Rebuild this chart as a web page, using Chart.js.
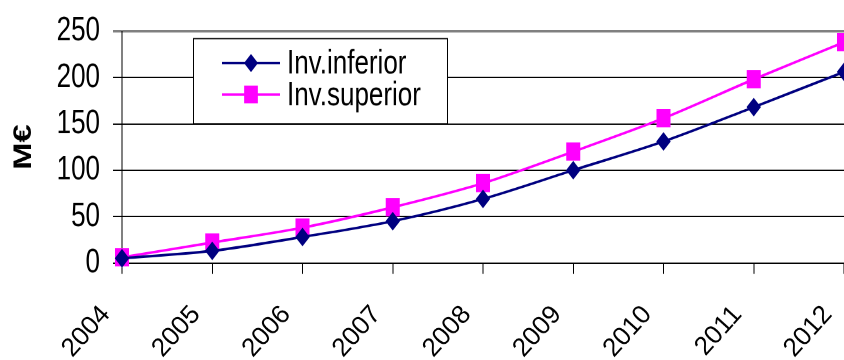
<!DOCTYPE html>
<html>
<head>
<meta charset="utf-8">
<script src="https://cdn.jsdelivr.net/npm/chart.js@4/dist/chart.umd.min.js"></script>
<style>
  html { margin: 0; padding: 0; background: #fff; overflow: hidden; }
  body { margin: 0; padding: 0; background: #fff; width: 844px; height: 360px; }
  /* the chart is drawn on a shorter canvas and stretched vertically */
  #wrap { width: 844px; height: 277px; transform: scaleY(1.2996); transform-origin: 0 0; }
</style>
</head>
<body>
<div id="wrap"><canvas id="c"></canvas></div>
<script>
// Investment estimates (M€) per year
const years = ['2004', '2005', '2006', '2007', '2008', '2009', '2010', '2011', '2012'];
const invInferior = [5, 13, 28, 45, 69, 100, 131, 168, 206];
const invSuperior = [6, 22, 38, 60, 86, 120, 156, 198, 238];
const seriesNames = ['Inv.inferior', 'Inv.superior'];
const yMin = 0, yMax = 250, yStep = 50;

const NAVY = '#000080';
const MAGENTA = '#FF00FF';
const FONT = '"Liberation Sans", Arial, sans-serif';

const CANVAS_W = 844, CANVAS_H = 277;
const STRETCH = 1.2996;
const PLOT_TOP = 23.9, PLOT_BOTTOM = 202.3;

const cv = document.getElementById('c');
cv.style.width = CANVAS_W + 'px';
cv.style.height = CANVAS_H + 'px';
cv.width = CANVAS_W; cv.height = CANVAS_H;

function markerPath(ctx, style, x, y, r) {
  ctx.beginPath();
  if (style === 'rectRot') {
    ctx.moveTo(x - r, y); ctx.lineTo(x, y - r); ctx.lineTo(x + r, y); ctx.lineTo(x, y + r);
  } else {
    const h = r * Math.SQRT1_2;
    ctx.rect(x - h, y - h, 2 * h, 2 * h);
  }
  ctx.closePath();
}

// Boxed legend drawn inside the plot area
const boxLegend = {
  id: 'boxLegend',
  afterDatasetsDraw(chart) {
    const ctx = chart.ctx;
    const box = { x: 193, y: 29.2, w: 254, h: 65.5 };
    ctx.save();
    ctx.fillStyle = '#fff';
    ctx.fillRect(box.x, box.y, box.w, box.h);
    ctx.strokeStyle = '#000';
    ctx.lineWidth = 1;
    ctx.strokeRect(box.x + 0.5, box.y + 0.5, box.w, box.h);
    const rows = [48.5, 72.7];
    chart.data.datasets.forEach((ds, i) => {
      const y = rows[i];
      ctx.strokeStyle = ds.borderColor;
      ctx.lineWidth = 2;
      ctx.beginPath(); ctx.moveTo(222, y); ctx.lineTo(280, y); ctx.stroke();
      ctx.fillStyle = ds.pointBackgroundColor;
      markerPath(ctx, ds.pointStyle, 251, y, ds.pointRadius + 0.5);
      ctx.fill();
      ctx.fillStyle = '#000';
      ctx.font = '26px ' + FONT;
      ctx.textAlign = 'left';
      ctx.textBaseline = 'middle';
      ctx.fillText(seriesNames[i], 287, y + 1);
    });
    ctx.restore();
  }
};

// Year labels under the x axis, slanted, placed at each category tick
// (the vertical stretch is undone locally so the glyphs keep their shape)
const slantedYearLabels = {
  id: 'slantedYearLabels',
  afterDraw(chart) {
    const ctx = chart.ctx;
    const xs = chart.scales.x;
    ctx.save();
    ctx.fillStyle = '#000';
    ctx.font = '26px ' + FONT;
    ctx.textAlign = 'right';
    ctx.textBaseline = 'alphabetic';
    xs.ticks.forEach((t, i) => {
      const px = xs.getPixelForTick(i);
      ctx.save();
      ctx.translate(px - 11, 315 / STRETCH);
      ctx.scale(1, 1 / STRETCH);
      ctx.rotate(-48 * Math.PI / 180);
      ctx.fillText(xs.getLabelForValue(t.value), 0, 0);
      ctx.restore();
    });
    ctx.restore();
  }
};

new Chart(cv, {
  type: 'line',
  data: {
    labels: years,
    datasets: [
      {
        label: seriesNames[0], data: invInferior,
        borderColor: NAVY, backgroundColor: NAVY, pointBackgroundColor: NAVY, pointBorderColor: NAVY,
        borderWidth: 2, pointStyle: 'rectRot', pointRadius: 6.5, pointBorderWidth: 1,
        tension: 0.3, fill: false, clip: false
      },
      {
        label: seriesNames[1], data: invSuperior,
        borderColor: MAGENTA, backgroundColor: MAGENTA, pointBackgroundColor: MAGENTA, pointBorderColor: MAGENTA,
        borderWidth: 2, pointStyle: 'rect', pointRadius: 9.2, pointBorderWidth: 1,
        tension: 0.3, fill: false, clip: false
      }
    ]
  },
  options: {
    responsive: false,
    animation: false,
    devicePixelRatio: 2,
    layout: { autoPadding: false, padding: { top: PLOT_TOP, right: 0, bottom: 0, left: 0 } },
    plugins: { legend: { display: false }, tooltip: { enabled: false } },
    scales: {
      x: {
        offset: false,
        grid: { display: true, drawOnChartArea: false, drawTicks: true, tickLength: 8.5, color: '#000' },
        border: { display: true, color: '#000', width: 1 },
        ticks: { display: false, autoSkip: false },
        afterFit(scale) { scale.height = CANVAS_H - PLOT_BOTTOM; scale.paddingLeft = 0; scale.paddingRight = 0; }
      },
      y: {
        min: yMin, max: yMax,
        grid: {
          color: (c) => (c.tick && c.tick.value === yMax ? '#808080' : '#000'),
          lineWidth: (c) => (c.tick && c.tick.value === yMax ? 2 : 1),
          tickLength: 9
        },
        border: { display: true, color: '#000', width: 1 },
        ticks: { stepSize: yStep, color: '#000', font: { family: FONT, size: 26 }, padding: 13 },
        title: { display: true, text: 'M€', color: '#000', font: { family: FONT, size: 25, weight: 'bold' }, padding: { top: 9, bottom: 0 } },
        afterFit(scale) { scale.width = 122; scale.paddingTop = 0; scale.paddingBottom = 0; }
      }
    }
  },
  plugins: [boxLegend, slantedYearLabels]
});
</script>
</body>
</html>
